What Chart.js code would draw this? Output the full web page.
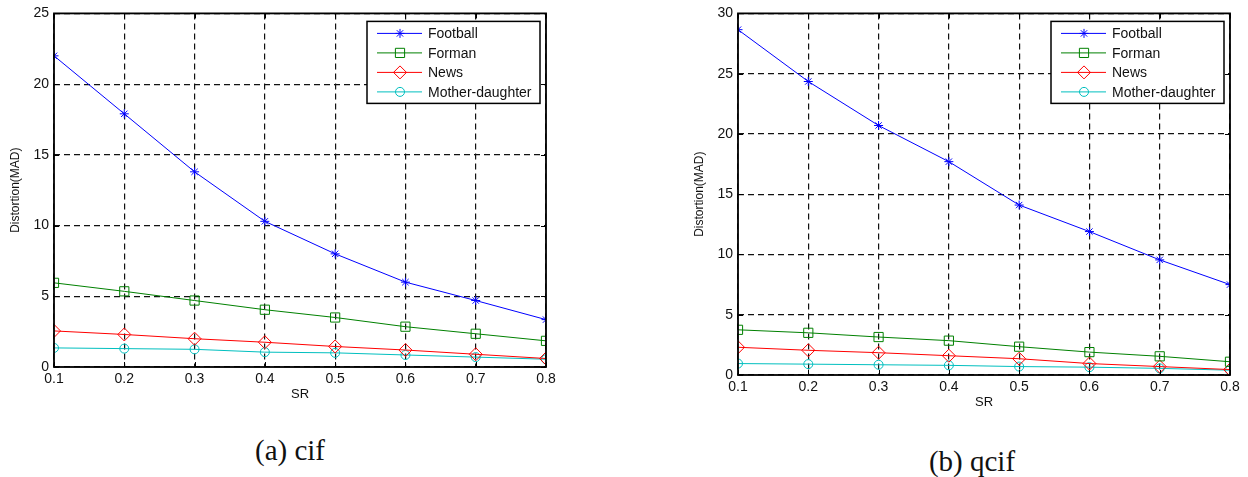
<!DOCTYPE html>
<html>
<head>
<meta charset="utf-8">
<script src="https://cdn.jsdelivr.net/npm/chart.js@4/dist/chart.umd.min.js"></script>
<style>
  html, body { margin: 0; padding: 0; background: #fff; }
  body { width: 1248px; height: 477px; position: relative; overflow: hidden; }
  .panel { position: absolute; top: 0; }
  .caption {
    position: absolute;
    font-family: "Liberation Serif", "Times New Roman", serif;
    font-size: 29px;
    color: #111;
    transform: translateX(-50%);
    white-space: nowrap;
  }
</style>
</head>
<body>
<div class="panel" style="left:0; width:565px; height:410px;"><canvas id="cifChart" width="565" height="410"></canvas></div>
<div class="panel" style="left:684px; width:564px; height:418px;"><canvas id="qcifChart" width="564" height="418"></canvas></div>
<div class="caption" style="left:290px; top:434px;">(a) cif</div>
<div class="caption" style="left:972px; top:445px;">(b) qcif</div>

<script>
// sampling rate on the x axis
const srValues = [0.1, 0.2, 0.3, 0.4, 0.5, 0.6, 0.7, 0.8];
const sequenceNames = ['Football', 'Forman', 'News', 'Mother-daughter'];

// distortion (MAD), cif sequences
const cifFootball = [22.0, 17.9, 13.8, 10.3, 8.0, 6.0, 4.7, 3.35];
const cifForman = [5.95, 5.35, 4.7, 4.05, 3.5, 2.85, 2.35, 1.85];
const cifNews = [2.55, 2.3, 2.0, 1.75, 1.45, 1.2, 0.9, 0.6];
const cifMotherDaughter = [1.35, 1.3, 1.25, 1.05, 1.0, 0.85, 0.7, 0.55];

// distortion (MAD), qcif sequences
const qcifFootball = [28.65, 24.35, 20.7, 17.7, 14.1, 11.9, 9.55, 7.5];
const qcifForman = [3.75, 3.5, 3.15, 2.85, 2.35, 1.9, 1.55, 1.1];
const qcifNews = [2.3, 2.05, 1.85, 1.6, 1.35, 0.95, 0.7, 0.45];
const qcifMotherDaughter = [0.95, 0.9, 0.85, 0.8, 0.7, 0.65, 0.55, 0.4];

const cifYTicks = [0, 25];
const qcifYTicks = [0, 30];

const lineStyles = [
    { color: '#0000ff', pointStyle: 'star', radius: 4.5 },
    { color: '#008000', pointStyle: 'rect', radius: 6.5 },
    { color: '#ff0000', pointStyle: 'rectRot', radius: 6.5 },
    { color: '#00bfbf', pointStyle: 'circle', radius: 4.5 }
];

const FONT = '"Liberation Sans", Arial, Helvetica, sans-serif';

function drawMarker(ctx, style, x, y) {
    ctx.save();
    ctx.strokeStyle = style.color;
    ctx.fillStyle = 'rgba(0,0,0,0)';
    ctx.lineWidth = 1;
    Chart.helpers.drawPoint(ctx, { pointStyle: style.pointStyle, radius: style.radius, rotation: 0, borderWidth: 1 }, x, y);
    ctx.restore();
}

// box frame, inward ticks and the line+marker legend
const matlabFrame = {
    id: 'matlabFrame',
    afterDraw(chart) {
        const ctx = chart.ctx;
        const a = chart.chartArea;
        const xs = chart.scales.x, ys = chart.scales.y;
        ctx.save();
        ctx.strokeStyle = '#000';
        ctx.lineWidth = 1;
        ctx.beginPath();
        xs.ticks.forEach(t => {
            const px = Math.round(xs.getPixelForValue(t.value)) + 0.5;
            ctx.moveTo(px, a.bottom); ctx.lineTo(px, a.bottom - 5);
            ctx.moveTo(px, a.top); ctx.lineTo(px, a.top + 5);
        });
        ys.ticks.forEach(t => {
            const py = Math.round(ys.getPixelForValue(t.value)) + 0.5;
            ctx.moveTo(a.left, py); ctx.lineTo(a.left + 5, py);
            ctx.moveTo(a.right, py); ctx.lineTo(a.right - 5, py);
        });
        ctx.stroke();
        ctx.lineWidth = 1.8;
        ctx.strokeRect(a.left, a.top, a.right - a.left, a.bottom - a.top);

        // legend box in the upper right corner
        const bw = 173, bh = 82;
        const bx = a.right - 6 - bw, by = a.top + 8;
        ctx.fillStyle = '#fff';
        ctx.fillRect(bx, by, bw, bh);
        ctx.lineWidth = 1.5;
        ctx.strokeRect(bx, by, bw, bh);
        ctx.font = '14px ' + FONT;
        ctx.textBaseline = 'middle';
        chart.data.datasets.forEach((ds, i) => {
            const style = lineStyles[i];
            const ry = by + 12 + i * 19.5;
            ctx.strokeStyle = style.color;
            ctx.lineWidth = 1;
            ctx.beginPath();
            ctx.moveTo(bx + 10, ry);
            ctx.lineTo(bx + 55, ry);
            ctx.stroke();
            drawMarker(ctx, style, bx + 33, ry);
            ctx.fillStyle = '#111';
            ctx.fillText(ds.label, bx + 61, ry + 1);
        });
        ctx.restore();
    }
};

function buildChart(canvasId, series, yRange, padTop, padRight) {
    const ctx = document.getElementById(canvasId).getContext('2d');
    const datasets = series.map((values, i) => ({
        label: sequenceNames[i],
        data: srValues.map((sr, j) => ({ x: sr, y: values[j] })),
        borderColor: lineStyles[i].color,
        backgroundColor: 'rgba(0,0,0,0)',
        borderWidth: 1,
        pointStyle: lineStyles[i].pointStyle,
        pointRadius: lineStyles[i].radius,
        pointBorderColor: lineStyles[i].color,
        pointBackgroundColor: 'rgba(0,0,0,0)',
        pointBorderWidth: 1,
        tension: 0
    }));

    const gridStyle = { color: '#111', lineWidth: 1.2, drawTicks: false };

    return new Chart(ctx, {
        type: 'line',
        data: { datasets: datasets },
        options: {
            responsive: false,
            animation: false,
            layout: { padding: { top: padTop, right: padRight, left: 0, bottom: 8 } },
            plugins: { legend: { display: false }, tooltip: { enabled: false } },
            scales: {
                x: {
                    type: 'linear',
                    min: 0.1,
                    max: 0.8,
                    grid: gridStyle,
                    border: { display: false, dash: [6, 4] },
                    ticks: {
                        stepSize: 0.1,
                        padding: 4,
                        color: '#111',
                        font: { family: FONT, size: 14 },
                        callback: v => v.toFixed(1)
                    },
                    title: {
                        display: true,
                        text: 'SR',
                        color: '#111',
                        font: { family: FONT, size: 13 },
                        padding: { top: 2, bottom: 0 }
                    },
                    afterFit: scale => { scale.height = 35; }
                },
                y: {
                    min: yRange[0],
                    max: yRange[1],
                    grid: gridStyle,
                    border: { display: false, dash: [6, 4] },
                    ticks: {
                        stepSize: 5,
                        padding: 5,
                        color: '#111',
                        font: { family: FONT, size: 14 }
                    },
                    title: {
                        display: true,
                        text: 'Distortion(MAD)',
                        color: '#111',
                        font: { family: FONT, size: 12 },
                        padding: { top: 8, bottom: 0 }
                    },
                    afterFit: scale => { scale.width = 54; }
                }
            }
        },
        plugins: [matlabFrame]
    });
}

buildChart('cifChart', [cifFootball, cifForman, cifNews, cifMotherDaughter], cifYTicks, 11, 19);
buildChart('qcifChart', [qcifFootball, qcifForman, qcifNews, qcifMotherDaughter], qcifYTicks, 12, 18);
</script>
</body>
</html>
